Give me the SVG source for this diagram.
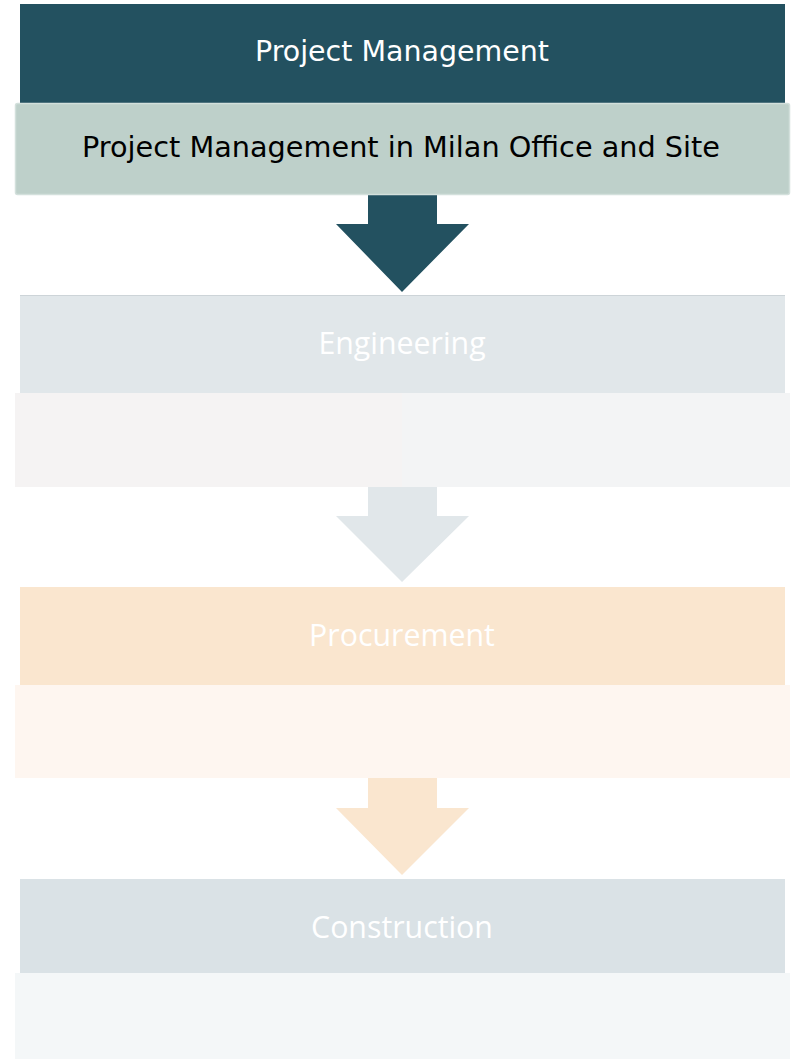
<svg xmlns="http://www.w3.org/2000/svg" width="792" height="1059" viewBox="0 0 792 1059">
<style>
.t1{font-family:"DejaVu Sans","Liberation Sans",sans-serif;font-size:28.7px;text-anchor:middle}
.t2{font-family:"Open Sans","Liberation Sans",sans-serif;font-size:30.3px;text-anchor:middle;fill:#ffffff}
</style>
<rect width="792" height="1059" fill="#ffffff"/>
<g id="connectors">
<path id="arrow1" d="M368,195 H437 V224 H469 L402,292 L336,224 H368 Z" fill="#235160"/>
<path id="arrow2" d="M368,487 H437 V516 H469 L402,582 L336,516 H368 Z" fill="#e1e7ea"/>
<path id="arrow3" d="M368,778 H437 V808 H469 L402,875 L336,808 H368 Z" fill="#fae6cf"/>
</g>
<g id="pm">
<rect x="20" y="4" width="765" height="99" fill="#235160"/>
<text class="t1" x="402" y="61" fill="#ffffff" textLength="294" lengthAdjust="spacingAndGlyphs">Project Management</text>
</g>
<g id="pm-sub">
<rect x="15.5" y="103.5" width="774" height="91" rx="2" fill="#bed0ca" stroke="#d3e0dc" stroke-width="1.5"/>
<text class="t1" x="401" y="157" fill="#000000" textLength="638" lengthAdjust="spacingAndGlyphs">Project Management in Milan Office and Site</text>
</g>
<g id="engineering">
<rect x="20" y="295" width="765" height="98" fill="#e1e7ea"/>
<line x1="20" y1="295.5" x2="785" y2="295.5" stroke="#cdd4d8" stroke-width="1"/>
<text class="t2" x="402" y="354">Engineering</text>
</g>
<g id="engineering-sub">
<rect x="15" y="393" width="388" height="94" fill="#f5f3f3"/>
<rect x="402" y="393" width="388" height="94" fill="#f3f4f5"/>
</g>
<g id="procurement">
<rect x="20" y="587" width="765" height="98" fill="#fae6cf"/>
<text class="t2" x="402" y="646">Procurement</text>
</g>
<g id="procurement-sub">
<rect x="15" y="685" width="775" height="93" fill="#fef6f0"/>
</g>
<g id="construction">
<rect x="20" y="879" width="765" height="94" fill="#dae2e6"/>
<text class="t2" x="402" y="938">Construction</text>
</g>
<g id="construction-sub">
<rect x="15" y="973" width="775" height="86" fill="#f4f7f8"/>
</g>
</svg>
